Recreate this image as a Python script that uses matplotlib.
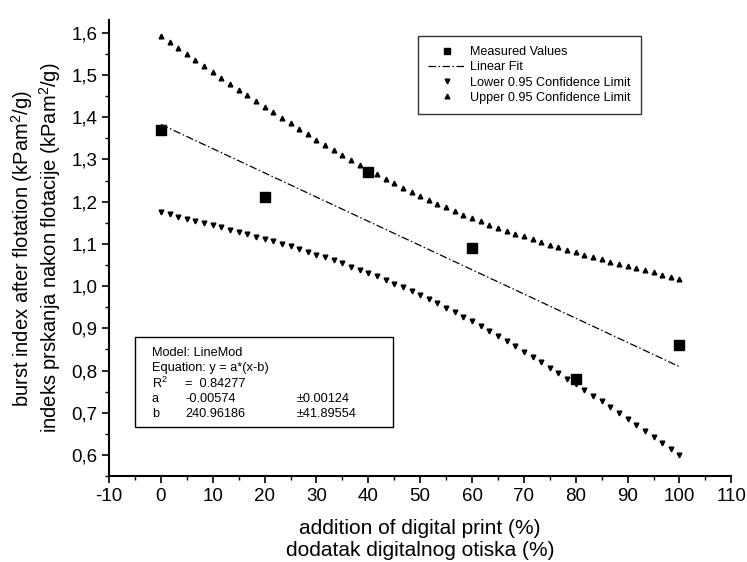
import numpy as np
import matplotlib
matplotlib.use("Agg")
import matplotlib.pyplot as plt
from matplotlib.ticker import MultipleLocator, FuncFormatter
from matplotlib.lines import Line2D
from matplotlib.patches import Rectangle

plt.rcParams['font.family'] = ['Liberation Sans', 'DejaVu Sans']
plt.rcParams['mathtext.fontset'] = 'custom'
plt.rcParams['mathtext.rm'] = 'Liberation Sans'

# Data
x_meas = [0, 20, 40, 60, 80, 100]
y_meas = [1.37, 1.21, 1.27, 1.09, 0.78, 0.86]
fit_a = -0.00574
fit_b = 240.96186
r2_text = "0.84277"
a_err = "0.00124"
b_err = "41.89554"
t_975_4 = 2.776   # Student t, 4 degrees of freedom
n_band_points = 61

xm = np.array(x_meas, float)
ym = np.array(y_meas, float)

xs = np.linspace(min(x_meas), max(x_meas), n_band_points)
fit = fit_a * (xs - fit_b)
resid = ym - fit_a * (xm - fit_b)
s = np.sqrt(np.sum(resid**2) / (len(xm) - 2))
sxx = np.sum((xm - xm.mean())**2)
half = t_975_4 * s * np.sqrt(1.0 / len(xm) + (xs - xm.mean())**2 / sxx)
upper = fit + half
lower = fit - half

fig = plt.figure(figsize=(7.47, 5.62), dpi=100)
ax = fig.add_axes([0.146, 0.153, 0.833, 0.811])

ax.plot(xs, fit, color='black', lw=0.9, dashes=(6, 2, 1.2, 2))
ax.plot(xs, lower, ls='none', marker='v', ms=3.4, color='black')
ax.plot(xs, upper, ls='none', marker='^', ms=3.4, color='black')
ax.plot(xm, ym, ls='none', marker='s', ms=6.5, color='black')

ax.set_xlim(-10, 110)
ax.set_ylim(0.55, 1.63)
ax.xaxis.set_major_locator(MultipleLocator(10))
ax.xaxis.set_minor_locator(MultipleLocator(5))
ax.yaxis.set_major_locator(MultipleLocator(0.1))
ax.yaxis.set_minor_locator(MultipleLocator(0.05))
ax.yaxis.set_major_formatter(FuncFormatter(lambda v, p: f"{v:.1f}".replace('.', ',')))
ax.xaxis.set_major_formatter(FuncFormatter(lambda v, p: f"{v:.0f}"))

for sp in ['top', 'right']:
    ax.spines[sp].set_visible(False)
for sp in ['left', 'bottom']:
    ax.spines[sp].set_linewidth(1.5)
ax.tick_params(which='major', direction='out', length=5, width=1.2, labelsize=13.5)
ax.tick_params(which='minor', direction='out', length=3, width=1.0)

ax.set_xlabel("addition of digital print (%)\ndodatak digitalnog otiska (%)",
              fontsize=15, linespacing=1.2, labelpad=10)
ax.set_ylabel("burst index after flotation (kPam$^2$/g)\nindeks prskanja nakon flotacije (kPam$^2$/g)",
              fontsize=14.5, linespacing=1.1, labelpad=6)

# Legend
handles = [
    Line2D([], [], ls='none', marker='s', ms=4.5, color='black'),
    Line2D([], [], color='black', lw=0.9, dashes=(6, 2, 1.2, 2)),
    Line2D([], [], ls='none', marker='v', ms=3.4, color='black'),
    Line2D([], [], ls='none', marker='^', ms=3.4, color='black'),
]
labels = ["Measured Values", "Linear Fit", "Lower 0.95 Confidence Limit",
          "Upper 0.95 Confidence Limit"]
leg = ax.legend(handles, labels, loc='upper left', bbox_to_anchor=(0.497, 0.965),
                fontsize=9.1, frameon=True, fancybox=False, edgecolor='black',
                handlelength=3.0, handletextpad=0.3, labelspacing=0.25,
                borderpad=0.8, borderaxespad=0)
leg.get_frame().set_linewidth(1.0)

# Stats box
bx0, by0 = 135, 337
bw, bh = 258, 90
W, H = 747, 562
fig.patches.append(Rectangle((bx0 / W, 1 - (by0 + bh) / H), bw / W, bh / H,
                             transform=fig.transFigure, fill=True, facecolor='white',
                             edgecolor='black', lw=1.0, zorder=5))
rows = [
    ("Model: LineMod", None, None),
    ("Equation: y = a*(x-b)", None, None),
    ("R$^2$", "=  " + r2_text, None),
    ("a", f"{fit_a:.5f}", "±" + a_err),
    ("b", f"{fit_b:.5f}", "±" + b_err),
]
for i, (c1, c2, c3) in enumerate(rows):
    yy = 1 - (353 + i * 15.3) / H
    fig.text(152 / W, yy, c1, fontsize=9.2, va='center', zorder=6)
    if c2:
        fig.text(185 / W, yy, c2, fontsize=9.2, va='center', zorder=6)
    if c3:
        fig.text(297 / W, yy, c3, fontsize=9.2, va='center', zorder=6)

fig.savefig("out.png", dpi=100)
